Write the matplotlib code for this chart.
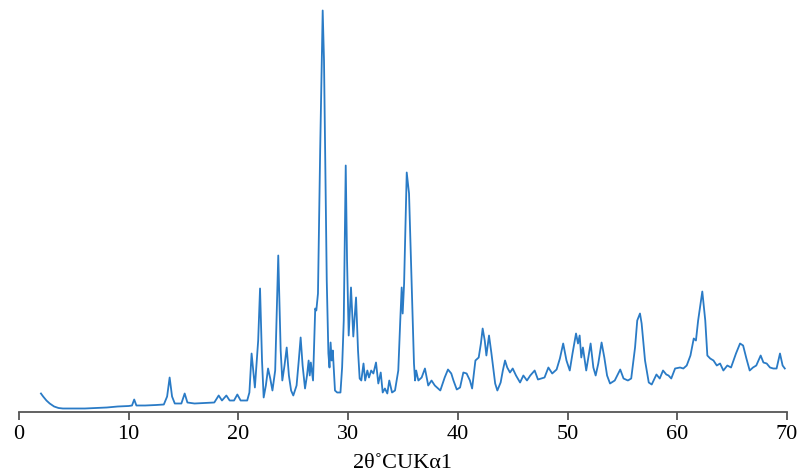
import matplotlib
matplotlib.use("Agg")
import matplotlib.pyplot as plt

# 2-theta positions (degrees) and relative intensity
two_theta = [
    2.0, 2.2, 2.5, 2.8, 3.2, 3.6, 4.0, 5.0, 6.0, 7.0, 8.0, 9.0, 10.0, 10.3, 10.5, 10.7,
    11.5, 12.5, 13.2, 13.5, 13.73, 13.95, 14.2, 14.8, 15.1, 15.35, 16.0, 17.0, 17.8,
    18.2, 18.5, 18.9, 19.2, 19.6, 19.9, 20.2, 20.8,
    21.0, 21.2, 21.5, 21.8, 21.97, 22.15, 22.3, 22.5, 22.7, 22.9, 23.1, 23.35, 23.63,
    23.85, 24.0, 24.2, 24.4, 24.6, 24.8, 25.0, 25.3, 25.5, 25.67, 25.85, 26.07, 26.25,
    26.4, 26.5, 26.6, 26.8, 27.0, 27.1, 27.25, 27.45, 27.68, 27.8, 27.9, 28.05, 28.2,
    28.3, 28.4, 28.5, 28.6, 28.8, 29.0, 29.3, 29.45, 29.6, 29.78, 29.9, 30.05, 30.26,
    30.47, 30.72, 30.9, 31.05, 31.2, 31.4, 31.55, 31.75, 31.9, 32.1, 32.3, 32.54, 32.75,
    32.97, 33.15, 33.35, 33.57, 33.75, 34.0, 34.27, 34.57, 34.75, 34.88, 34.97, 35.1,
    35.34, 35.55, 35.79, 36.0, 36.1, 36.2, 36.4, 36.7, 37.0, 37.3, 37.6, 37.9, 38.2,
    38.4, 38.8, 39.1, 39.4, 39.6, 39.9, 40.2, 40.5, 40.8, 41.1, 41.3, 41.6, 41.9, 42.1,
    42.26, 42.45, 42.6, 42.84, 43.05, 43.4, 43.6, 43.9, 44.1, 44.3, 44.5, 44.75, 45.0,
    45.3, 45.67, 45.97, 46.3, 46.6, 47.0, 47.3, 47.6, 47.9, 48.25, 48.6, 49.0, 49.3,
    49.6, 49.9, 50.2, 50.45, 50.77, 50.95, 51.1, 51.25, 51.4, 51.7, 52.1, 52.35, 52.56,
    52.8, 53.1, 53.35, 53.6, 53.87, 54.3, 54.8, 55.1, 55.5, 55.8, 56.15, 56.35, 56.6,
    56.75, 57.06, 57.4, 57.67, 58.1, 58.4, 58.7, 59.0, 59.2, 59.45, 59.8, 60.25, 60.55,
    60.86, 61.2, 61.5, 61.7, 61.9, 62.28, 62.55, 62.74, 63.0, 63.3, 63.6, 63.9, 64.2,
    64.56, 64.9, 65.35, 65.72, 66.0, 66.3, 66.6, 66.9, 67.2, 67.6, 67.85, 68.15, 68.45,
    68.75, 69.05, 69.36, 69.6, 69.8,
]
intensity = [
    18, 15, 11, 8, 5, 3.5, 3, 3, 3, 3.5, 4, 5, 5.5, 6, 12, 6,
    6, 6.5, 7, 15, 34, 15, 8, 8, 18, 9, 8, 8.5, 9,
    16, 11, 16, 11, 11, 17, 11, 11,
    19, 58, 24, 71, 123, 51, 14, 26, 43, 33, 21, 41, 156,
    61, 31, 46, 64, 36, 21, 16, 26, 51, 74, 46, 23, 36,
    51, 36, 49, 31, 103, 101, 118, 261, 401, 351, 261, 131, 58,
    44, 69, 51, 61, 21, 19, 19, 44, 91, 246, 151, 76, 124,
    75, 114, 61, 33, 31, 48, 31, 41, 34, 41, 38, 49, 28,
    39, 19, 23, 18, 31, 19, 21, 41, 91, 124, 98, 128,
    239, 218, 128, 48, 31, 41, 31, 34, 43, 26, 31, 26, 23,
    21, 34, 42, 38, 31, 22, 24, 39, 38, 31, 23, 51, 54, 68,
    83, 71, 56, 76, 59, 28, 21, 29, 41, 51, 44, 39, 43,
    36, 29, 36, 31, 36, 41, 32, 33, 34, 44, 38, 42, 53,
    68, 51, 41, 58, 78, 68, 76, 54, 64, 41, 68, 44, 36,
    48, 69, 54, 36, 28, 31, 42, 33, 31, 33, 64, 91, 98,
    88, 51, 29, 27, 37, 33, 41, 37, 36, 33, 43, 44, 43,
    46, 56, 73, 71, 91, 120, 91, 56, 53, 51, 46, 48, 41,
    46, 44, 58, 68, 66, 53, 41, 44, 46, 56, 49, 48, 44,
    43, 43, 58, 46, 43,
]
x_ticks = [0, 10, 20, 30, 40, 50, 60, 70]
x_label = "2θ˚CUKα1"

plt.rcParams["font.family"] = ["Liberation Serif", "DejaVu Serif"]
plt.rcParams["mathtext.fontset"] = "custom"

fig = plt.figure(figsize=(8.07, 4.76), dpi=100)
ax = fig.add_axes([19 / 807, (476 - 411.5) / 476, (787 - 19) / 807, 411.5 / 476])
ax.plot(two_theta, intensity, color="#2a7bc6", linewidth=1.3)

ax.set_xlim(0, 70)
ax.set_ylim(0, 411.5)
ax.set_xticks(x_ticks)
ax.set_xticklabels([str(t) for t in x_ticks], fontsize=16)
ax.set_yticks([])
for s in ("top", "right", "left"):
    ax.spines[s].set_visible(False)
ax.spines["bottom"].set_color("#555555")
ax.spines["bottom"].set_linewidth(1.3)
ax.tick_params(axis="x", direction="out", length=6, width=1.3, color="#555555", pad=4)
ax.set_xlabel(x_label, fontsize=16, labelpad=7)
ax.patch.set_alpha(0)

fig.savefig("out.png", dpi=100)
